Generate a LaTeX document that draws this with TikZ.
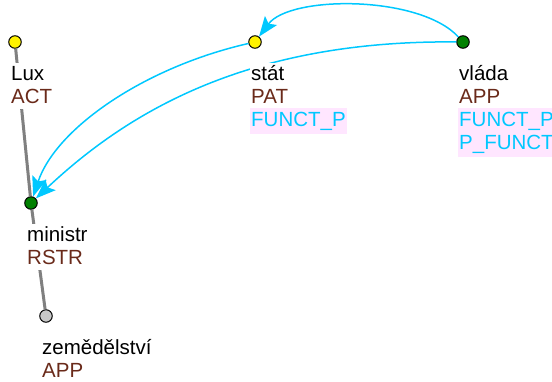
\documentclass[tikz,border=0pt]{standalone}
\usepackage{fontspec}
\setmainfont{Liberation Sans}
\usetikzlibrary{arrows.meta}
\definecolor{fbrown}{RGB}{106,42,26}
\definecolor{fcyan}{RGB}{0,200,255}
\definecolor{fpink}{RGB}{255,230,255}
\definecolor{ngreen}{RGB}{0,128,0}
\definecolor{ngray}{RGB}{200,200,200}
\definecolor{egray}{RGB}{128,128,128}
\tikzset{
  tnode/.style={circle,draw=black,line width=1pt,minimum size=12.5pt,inner sep=0pt},
  yelnode/.style={tnode,fill=yellow},
  grnnode/.style={tnode,fill=ngreen},
  graynode/.style={tnode,fill=ngray},
  gedge/.style={draw=egray,line width=3pt},
  coref/.style={draw=fcyan,line width=1.5pt,-{Stealth[length=20pt,width=15pt,inset=4pt]}},
  lbl/.style={anchor=base west,inner xsep=1.5pt,inner ysep=0pt,text height=17pt,text depth=6pt,fill=white,font=\fontsize{20.5}{23}\selectfont},
  lblk/.style={lbl,text=black},
  lblf/.style={lbl,text=fbrown},
  lblc/.style={lbl,text=fcyan,fill=fpink,inner ysep=1.5pt}
}
\begin{document}
\begin{tikzpicture}[x=1pt,y=-1pt]
\useasboundingbox (0,0) rectangle (552,381);
% tree nodes
\node[yelnode] (lux) at (15,42) {};
\node[yelnode] (stat) at (255,42) {};
\node[grnnode] (vlada) at (463,42) {};
\node[grnnode] (min) at (31,203) {};
\node[graynode] (zem) at (46,316) {};
% edges
\draw[gedge] (lux) -- (min);
\draw[gedge] (min) -- (zem);
% coreference arrows
\draw[coref] (vlada) .. controls (420,-5) and (290,-5) .. (stat);
\draw[coref] (stat) .. controls (145,67) and (56,128) .. (min);
\draw[coref] (vlada) .. controls (250,40) and (130,110) .. (min);
% labels
\node[lblk] (luxa) at (9.5,80) {Lux};
\node[lblf] (luxb) at (9.5,103) {ACT};
\node[lblk] (stata) at (249.5,80) {stát};
\node[lblf] (statb) at (249.5,103) {PAT};
\node[lblc] (statc) at (249.5,126) {FUNCT\_P};
\node[lblk] (vladaa) at (457.5,80) {vláda};
\node[lblf] (vladab) at (457.5,103) {APP};
\node[lblc] (vladac) at (457.5,126) {FUNCT\_P};
\node[lblc] (vladad) at (457.5,149) {P\_FUNCT};
\node[lblk] (mina) at (25.5,241) {ministr};
\node[lblf] (minb) at (25.5,264) {RSTR};
\node[lblk] (zema) at (40.5,354) {zemědělství};
\node[lblf] (zemb) at (40.5,377) {APP};
\end{tikzpicture}
\end{document}
